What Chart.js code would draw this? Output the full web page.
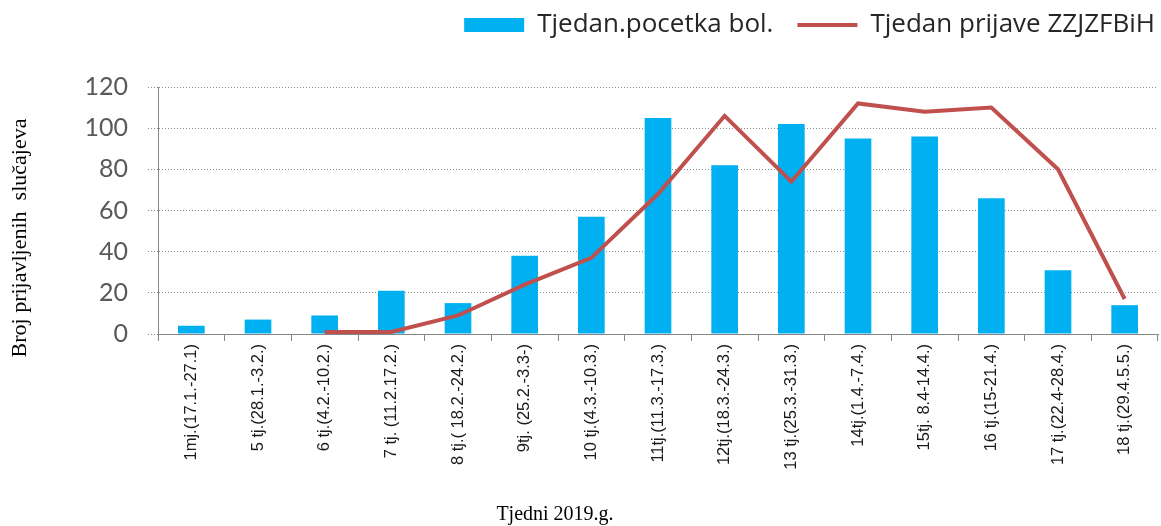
<!DOCTYPE html>
<html>
<head>
<meta charset="utf-8">
<script src="https://cdn.jsdelivr.net/npm/chart.js@4/dist/chart.umd.min.js"></script>
<style>
  html, body { margin: 0; padding: 0; background: #fff; }
  #wrap { width: 1161px; height: 526px; }
</style>
</head>
<body>
<div id="wrap"><canvas id="weeksChart" width="1161" height="526"></canvas></div>
<script>
var weekLabels = [
    '1mj.(17.1.-27.1)', '5 tj.(28.1.-3.2.)', '6 tj.(4.2.-10.2.)', '7 tj. (11.2.17.2.)',
    '8 tj.( 18.2.-24.2.)', '9tj. (25.2.-3.3-)', '10 tj.(4.3.-10.3.)', '11tj.(11.3.-17.3.)',
    '12tj.(18.3.-24.3.)', '13 tj.(25.3.-31.3.)', '14tj.(1.4.-7.4.)', '15tj. 8.4-14.4.)',
    '16 tj.(15-21.4.)', '17 tj.(22.4-28.4.)', '18 tj.(29.4.5.5.)'
];
var onsetCounts = [4, 7, 9, 21, 15, 38, 57, 105, 82, 102, 95, 96, 66, 31, 14];
var reportCounts = [null, null, 1, 1, 9, 24, 37, 68, 106, 74, 112, 108, 110, 80, 17];
var seriesNames = ['Tjedan.pocetka bol.', 'Tjedan prijave ZZJZFBiH'];
var yTicks = [0, 20, 40, 60, 80, 100, 120];
var xTitle = 'Tjedni 2019.g.';
var yTitle = 'Broj prijavljenih  slučajeva';

// legend takes the whole band above the plot, then gets nudged up and right
var legendBand = {
    id: 'legendBand',
    beforeLayout: function(chart) {
        var legend = chart.legend;
        if (legend && !legend._fixed) {
            var fit = legend.fit;
            legend.fit = function() {
                fit.call(this);
                this.height = 84;
            };
            legend._fixed = true;
        }
    },
    afterLayout: function(chart) {
        chart.legend.top = -12;
        chart.legend.right = chart.width + 18;
    }
};

var axisTitles = {
    id: 'axisTitles',
    afterDraw: function(chart) {
        var ctx = chart.ctx;
        ctx.save();
        ctx.fillStyle = '#000';
        ctx.textAlign = 'center';
        ctx.textBaseline = 'alphabetic';
        ctx.font = '20px "Liberation Serif"';
        ctx.fillText(xTitle, 555, 520);
        ctx.translate(26, 238);
        ctx.rotate(-Math.PI / 2);
        ctx.font = '22px "Liberation Serif"';
        ctx.fillText(yTitle, 0, 0);
        ctx.restore();
    }
};

var ctx = document.getElementById('weeksChart').getContext('2d');
var weeksChart = new Chart(ctx, {
    type: 'bar',
    data: {
        labels: weekLabels,
        datasets: [{
            type: 'line',
            label: seriesNames[1],
            data: reportCounts,
            borderColor: '#C0504D',
            backgroundColor: '#C0504D',
            borderWidth: 4,
            pointRadius: 0,
            tension: 0,
            order: 1
        }, {
            type: 'bar',
            label: seriesNames[0],
            data: onsetCounts,
            backgroundColor: '#00B0F0',
            barPercentage: 0.4,
            categoryPercentage: 1,
            order: 2
        }]
    },
    options: {
        responsive: false,
        animation: false,
        layout: {
            padding: { top: 3, right: 3, left: 0, bottom: 0 }
        },
        plugins: {
            tooltip: { enabled: false },
            legend: {
                position: 'top',
                align: 'end',
                reverse: true,
                labels: {
                    usePointStyle: true,
                    pointStyleWidth: 60,
                    boxHeight: 14,
                    padding: 24,
                    color: '#262626',
                    font: { family: '"Open Sans"', size: 26 },
                    generateLabels: function(chart) {
                        var items = Chart.defaults.plugins.legend.labels.generateLabels(chart);
                        items.forEach(function(item) {
                            if (item.datasetIndex === 0) {
                                item.pointStyle = 'line';
                                item.strokeStyle = '#C0504D';
                                item.lineWidth = 4;
                            } else {
                                item.pointStyle = 'rect';
                                item.lineWidth = 0;
                                item.strokeStyle = '#00B0F0';
                            }
                        });
                        return items;
                    }
                }
            }
        },
        scales: {
            x: {
                afterFit: function(scale) { scale.height = 192; },
                grid: {
                    offset: true,
                    drawOnChartArea: false,
                    color: '#868686',
                    tickLength: 7
                },
                border: { color: '#868686' },
                ticks: {
                    autoSkip: false,
                    minRotation: 90,
                    maxRotation: 90,
                    padding: 3,
                    color: '#1a1a1a',
                    font: { family: '"Liberation Sans Narrow", "Liberation Sans"', size: 16.5 }
                }
            },
            y: {
                min: 0,
                max: 120,
                afterFit: function(scale) { scale.width = 158; },
                afterBuildTicks: function(scale) {
                    scale.ticks = yTicks.map(function(v) { return { value: v }; });
                },
                grid: {
                    color: '#8c8c8c',
                    tickLength: 10,
                    tickColor: '#8c8c8c',
                    tickBorderDash: [1, 2]
                },
                border: { color: '#868686', dash: [1, 2] },
                ticks: {
                    padding: 20,
                    color: '#595959',
                    font: { family: 'Lato', size: 25 }
                }
            }
        }
    },
    plugins: [legendBand, axisTitles]
});
</script>
</body>
</html>
